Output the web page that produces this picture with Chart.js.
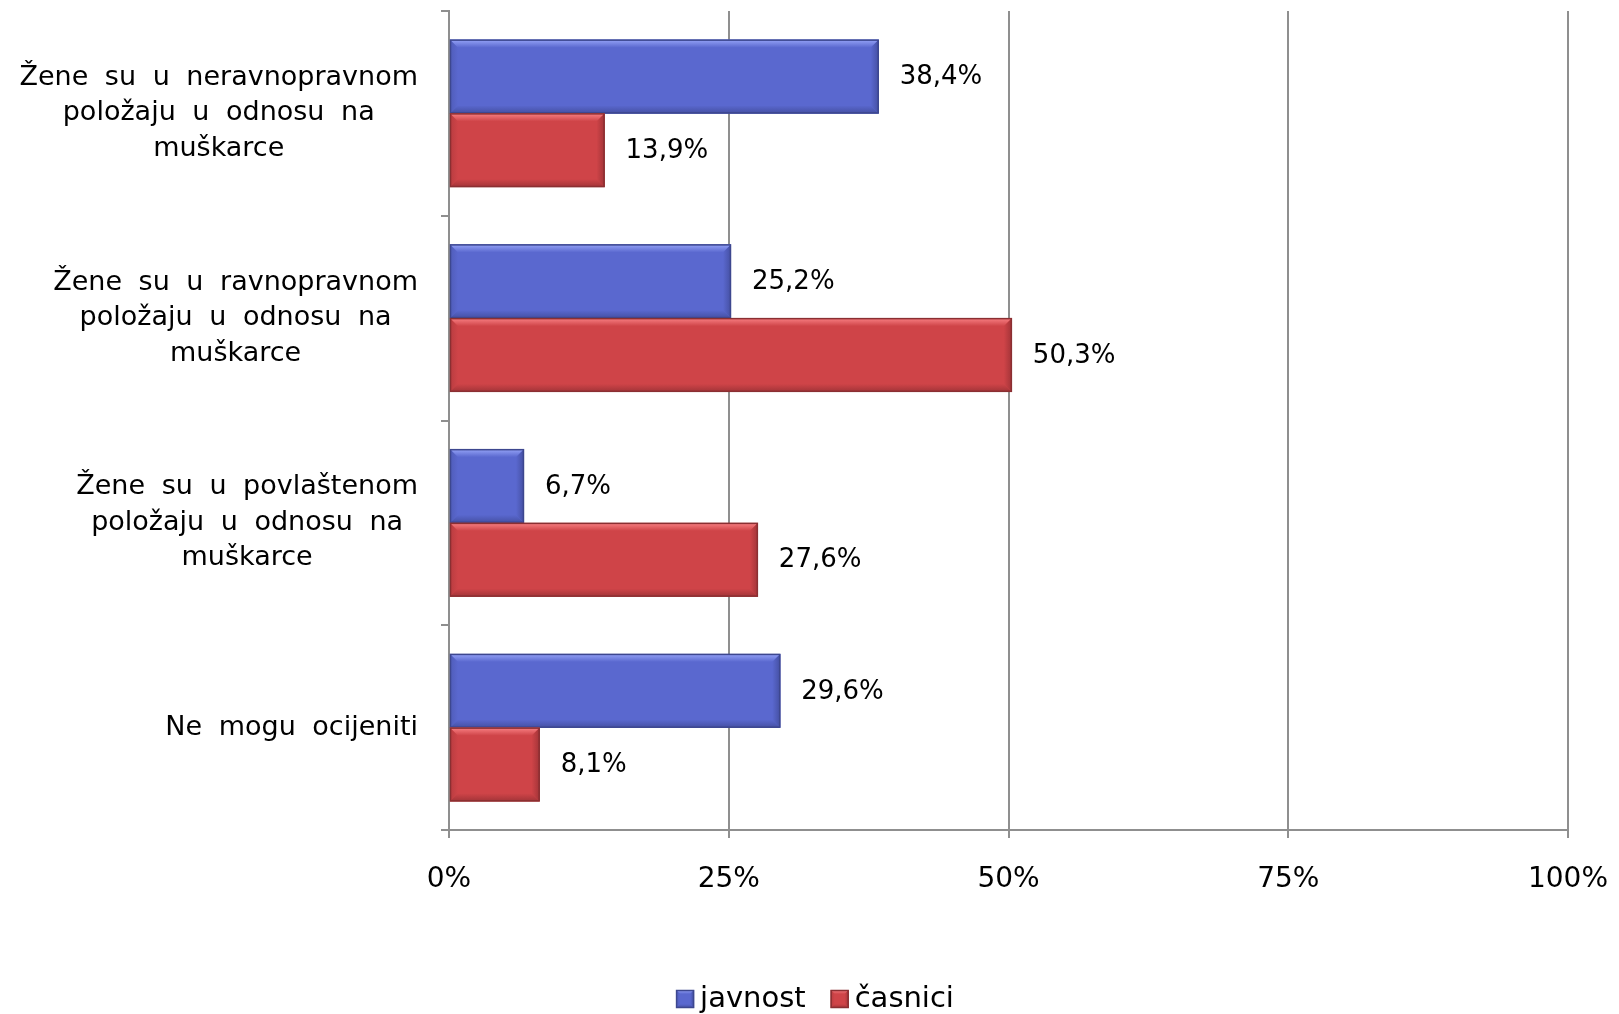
<!DOCTYPE html>
<html>
<head>
<meta charset="utf-8">
<script src="https://cdn.jsdelivr.net/npm/chart.js@4/dist/chart.umd.min.js"></script>
<style>
html,body{margin:0;padding:0;background:#fff;}
canvas{display:block;}
</style>
</head>
<body>
<canvas id="c" width="1619" height="1014"></canvas>
<script>
const categories = [
  ["Žene su u neravnopravnom", "položaju u odnosu na", "muškarce"],
  ["Žene su u ravnopravnom", "položaju u odnosu na", "muškarce"],
  ["Žene su u povlaštenom", "položaju u odnosu na", "muškarce"],
  ["Ne mogu ocijeniti"]
];
const seriesNames = ["javnost", "časnici"];
const javnost = [38.4, 25.2, 6.7, 29.6];
const casnici = [13.9, 50.3, 27.6, 8.1];
const xTicks = [0, 25, 50, 75, 100];

const FONT = "'DejaVu Sans', Verdana, sans-serif";
const GRID = '#8f8f8f';

const palette = [
  {main:'#5a68cf', light:'#95a3f7', dark:'#4550a3', border:'#3d478f'},
  {main:'#cf4448', light:'#f98184', dark:'#a23438', border:'#8a2f32'}
];

function bevelRect(ctx, x0, y0, x1, y1, p, bev) {
  const b = Math.min(bev, (x1 - x0) / 2, (y1 - y0) / 2);
  ctx.save();
  ctx.fillStyle = p.main;
  ctx.fillRect(x0, y0, x1 - x0, y1 - y0);
  let g = ctx.createLinearGradient(0, y0, 0, y0 + b);
  g.addColorStop(0, p.light); g.addColorStop(1, p.main);
  ctx.fillStyle = g;
  ctx.beginPath();
  ctx.moveTo(x0, y0); ctx.lineTo(x1, y0); ctx.lineTo(x1 - b, y0 + b); ctx.lineTo(x0 + b, y0 + b); ctx.closePath();
  ctx.fill();
  g = ctx.createLinearGradient(0, y1 - b, 0, y1);
  g.addColorStop(0, p.main); g.addColorStop(1, p.dark);
  ctx.fillStyle = g;
  ctx.beginPath();
  ctx.moveTo(x0, y1); ctx.lineTo(x1, y1); ctx.lineTo(x1 - b, y1 - b); ctx.lineTo(x0 + b, y1 - b); ctx.closePath();
  ctx.fill();
  g = ctx.createLinearGradient(x1 - b, 0, x1, 0);
  g.addColorStop(0, p.main); g.addColorStop(1, p.dark);
  ctx.fillStyle = g;
  ctx.beginPath();
  ctx.moveTo(x1, y0); ctx.lineTo(x1, y1); ctx.lineTo(x1 - b, y1 - b); ctx.lineTo(x1 - b, y0 + b); ctx.closePath();
  ctx.fill();
  g = ctx.createLinearGradient(x0, 0, x0 + b, 0);
  g.addColorStop(0, p.dark); g.addColorStop(1, p.main);
  ctx.globalAlpha = 0.5;
  ctx.fillStyle = g;
  ctx.beginPath();
  ctx.moveTo(x0, y0); ctx.lineTo(x0, y1); ctx.lineTo(x0 + b, y1 - b); ctx.lineTo(x0 + b, y0 + b); ctx.closePath();
  ctx.fill();
  ctx.globalAlpha = 1;
  ctx.strokeStyle = p.border;
  ctx.lineWidth = 1.5;
  ctx.strokeRect(x0 + 0.5, y0 + 0.5, x1 - x0 - 1, y1 - y0 - 1);
  ctx.restore();
}

const bevelPlugin = {
  id: 'bevel',
  afterDatasetsDraw(chart) {
    const ctx = chart.ctx;
    chart.data.datasets.forEach((ds, di) => {
      const meta = chart.getDatasetMeta(di);
      meta.data.forEach(bar => {
        bevelRect(ctx, bar.base, bar.y - bar.height / 2, bar.x, bar.y + bar.height / 2, palette[di], 8);
      });
    });
  }
};

const labelPlugin = {
  id: 'valueLabels',
  afterDatasetsDraw(chart) {
    const ctx = chart.ctx;
    ctx.save();
    ctx.font = "26px " + FONT;
    ctx.fillStyle = '#000';
    ctx.textAlign = 'left';
    ctx.textBaseline = 'middle';
    chart.data.datasets.forEach((ds, di) => {
      const meta = chart.getDatasetMeta(di);
      meta.data.forEach((bar, i) => {
        const txt = ds.data[i].toFixed(1).replace('.', ',') + '%';
        ctx.fillText(txt, bar.x + 21, bar.y + 1);
      });
    });
    ctx.restore();
  }
};

const catLabelPlugin = {
  id: 'catLabels',
  afterDraw(chart) {
    const ctx = chart.ctx;
    const ys = chart.scales.y;
    const right = chart.chartArea.left - 31;
    ctx.save();
    ctx.font = "27px " + FONT;
    if ('wordSpacing' in ctx) ctx.wordSpacing = '8px';
    ctx.fillStyle = '#000';
    ctx.textAlign = 'center';
    ctx.textBaseline = 'middle';
    const lh = 35.5;
    categories.forEach((lines, i) => {
      const yc = ys.getPixelForValue(i);
      let w = 0;
      lines.forEach(l => { w = Math.max(w, ctx.measureText(l).width); });
      const cx = right - w / 2;
      lines.forEach((l, j) => {
        ctx.fillText(l, cx, yc + (j - (lines.length - 1) / 2) * lh);
      });
    });
    ctx.restore();
  }
};

const legendPlugin = {
  id: 'customLegend',
  afterDraw(chart) {
    const ctx = chart.ctx;
    ctx.save();
    ctx.font = "29px " + FONT;
    ctx.fillStyle = '#000';
    ctx.textAlign = 'left';
    ctx.textBaseline = 'middle';
    const box = 18, gap = 6, itemGap = 25;
    let total = 0;
    const widths = seriesNames.map(n => ctx.measureText(n).width);
    widths.forEach((w, i) => { total += box + gap + w + (i ? itemGap : 0); });
    const yc = 999;
    let x = 815 - total / 2;
    seriesNames.forEach((n, i) => {
      bevelRect(ctx, x, yc - box / 2, x + box, yc + box / 2, palette[i], 4);
      ctx.fillStyle = '#000';
      ctx.fillText(n, x + box + gap, yc);
      x += box + gap + widths[i] + itemGap;
    });
    ctx.restore();
  }
};

new Chart(document.getElementById('c'), {
  type: 'bar',
  data: {
    labels: categories.map(c => c.join(' ')),
    datasets: [
      {label: seriesNames[0], data: javnost, backgroundColor: palette[0].main, borderWidth: 0},
      {label: seriesNames[1], data: casnici, backgroundColor: palette[1].main, borderWidth: 0}
    ]
  },
  options: {
    responsive: false,
    animation: false,
    indexAxis: 'y',
    categoryPercentage: 0.72,
    barPercentage: 1.0,
    layout: {padding: {left: 0, right: 51, top: 11, bottom: 50}},
    plugins: {
      tooltip: {enabled: false},
      legend: {display: false}
    },
    scales: {
      x: {
        min: xTicks[0], max: xTicks[xTicks.length - 1],
        afterBuildTicks(scale) { scale.ticks = xTicks.map(v => ({value: v})); },
        afterFit(scale) { scale.height = 134; scale.paddingLeft = 0; scale.paddingRight = 0; },
        ticks: {
          color: '#000', font: {family: FONT, size: 28}, padding: 25,
          callback: v => v + '%'
        },
        grid: {color: GRID, lineWidth: 2, tickLength: 8, drawTicks: true},
        border: {display: true, color: GRID, width: 2}
      },
      y: {
        afterFit(scale) { scale.width = 449; scale.paddingTop = 0; scale.paddingBottom = 0; },
        ticks: {display: false},
        grid: {offset: true, drawOnChartArea: false, color: GRID, lineWidth: 2, tickLength: 8},
        border: {display: true, color: GRID, width: 2}
      }
    }
  },
  plugins: [bevelPlugin, labelPlugin, catLabelPlugin, legendPlugin]
});
</script>
</body>
</html>
